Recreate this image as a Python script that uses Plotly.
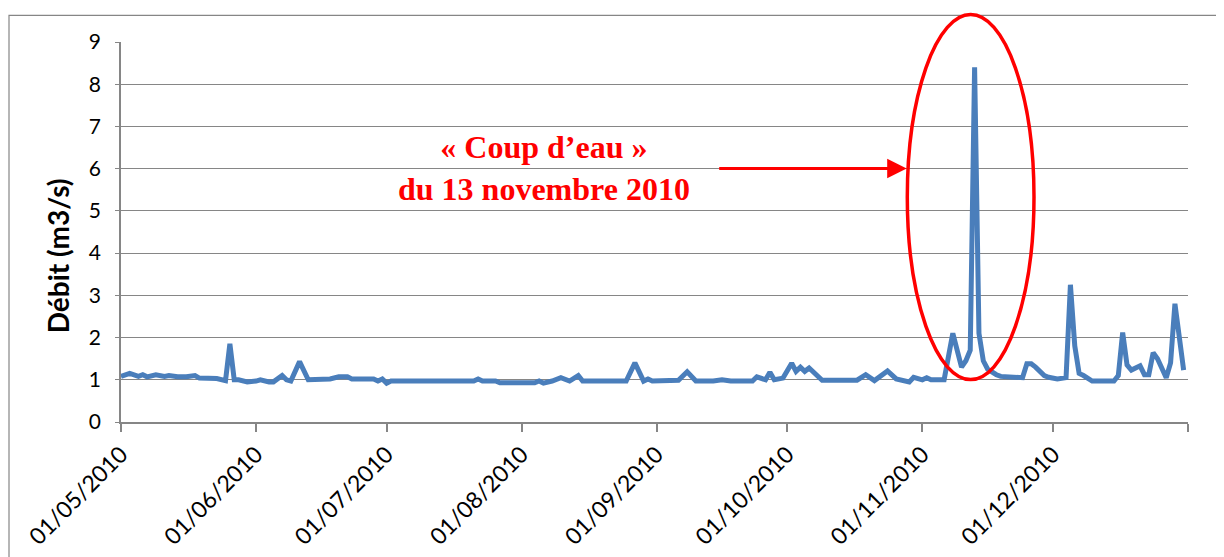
import plotly.graph_objects as go

# ---- data ----
dates = [
    "2010-05-01", "2010-05-03", "2010-05-05", "2010-05-06", "2010-05-07", "2010-05-09",
    "2010-05-11", "2010-05-12", "2010-05-14", "2010-05-16", "2010-05-18", "2010-05-19",
    "2010-05-23", "2010-05-25", "2010-05-26", "2010-05-27", "2010-05-28", "2010-05-30",
    "2010-06-01", "2010-06-02", "2010-06-04", "2010-06-05", "2010-06-07", "2010-06-08",
    "2010-06-09", "2010-06-11", "2010-06-13", "2010-06-18", "2010-06-20", "2010-06-22",
    "2010-06-23", "2010-06-28", "2010-06-29", "2010-06-30", "2010-07-01", "2010-07-02",
    "2010-07-21", "2010-07-22", "2010-07-23", "2010-07-26", "2010-07-27", "2010-08-04",
    "2010-08-05", "2010-08-06", "2010-08-08", "2010-08-10", "2010-08-12", "2010-08-14",
    "2010-08-15", "2010-08-25", "2010-08-27", "2010-08-29", "2010-08-30", "2010-08-31",
    "2010-09-06", "2010-09-08", "2010-09-10", "2010-09-14", "2010-09-16", "2010-09-18",
    "2010-09-23", "2010-09-24", "2010-09-26", "2010-09-27", "2010-09-28", "2010-09-30",
    "2010-10-02", "2010-10-03", "2010-10-04", "2010-10-05", "2010-10-06", "2010-10-08",
    "2010-10-09", "2010-10-17", "2010-10-19", "2010-10-21", "2010-10-24", "2010-10-26",
    "2010-10-28", "2010-10-29", "2010-10-30", "2010-11-01", "2010-11-02", "2010-11-03",
    "2010-11-06", "2010-11-07", "2010-11-08", "2010-11-10", "2010-11-11", "2010-11-12",
    "2010-11-13", "2010-11-14", "2010-11-15", "2010-11-16", "2010-11-17", "2010-11-18",
    "2010-11-19", "2010-11-21", "2010-11-24", "2010-11-25", "2010-11-26", "2010-11-27",
    "2010-11-28", "2010-11-29", "2010-11-30", "2010-12-02", "2010-12-04", "2010-12-05",
    "2010-12-06", "2010-12-07", "2010-12-08", "2010-12-09", "2010-12-10", "2010-12-15",
    "2010-12-16", "2010-12-17", "2010-12-18", "2010-12-19", "2010-12-21", "2010-12-22",
    "2010-12-23", "2010-12-24", "2010-12-25", "2010-12-27", "2010-12-28", "2010-12-29",
    "2010-12-31",
]
debit = [
    1.08, 1.15, 1.08, 1.12, 1.07, 1.12,
    1.08, 1.10, 1.07, 1.07, 1.10, 1.04,
    1.03, 0.98, 1.85, 1.00, 1.00, 0.95,
    0.97, 1.00, 0.95, 0.95, 1.10, 1.00,
    0.97, 1.43, 1.00, 1.02, 1.07, 1.07,
    1.02, 1.02, 0.97, 1.02, 0.92, 0.97,
    0.97, 1.02, 0.97, 0.97, 0.93, 0.93,
    0.97, 0.92, 0.97, 1.05, 0.97, 1.10,
    0.97, 0.97, 1.40, 0.97, 1.02, 0.97,
    0.99, 1.19, 0.97, 0.97, 1.00, 0.97,
    0.97, 1.07, 1.00, 1.18, 1.00, 1.04,
    1.39, 1.20, 1.30, 1.20, 1.28, 1.07,
    0.99, 0.99, 1.12, 0.98, 1.21, 1.02,
    0.97, 0.95, 1.06, 1.00, 1.05, 1.00,
    1.00, 1.50, 2.10, 1.30, 1.45, 1.70,
    8.40, 2.10, 1.45, 1.25, 1.18, 1.12,
    1.08, 1.06, 1.05, 1.38, 1.38, 1.30,
    1.20, 1.10, 1.06, 1.02, 1.05, 3.25,
    1.80, 1.15, 1.10, 1.05, 0.97, 0.97,
    1.10, 2.12, 1.35, 1.23, 1.33, 1.12,
    1.12, 1.64, 1.50, 1.05, 1.40, 2.80,
    1.23,
]
tick_dates = ["2010-05-01", "2010-06-01", "2010-07-01", "2010-08-01", "2010-09-01",
              "2010-10-01", "2010-11-01", "2010-12-01", "2011-01-01"]
tick_labels = ["01/05/2010", "01/06/2010", "01/07/2010", "01/08/2010", "01/09/2010",
               "01/10/2010", "01/11/2010", "01/12/2010", ""]
y_title = "Débit (m3/s)"
note_text = "« Coup d’eau »<br>du 13 novembre 2010"

GRID = "#868686"

fig = go.Figure()
fig.add_trace(go.Scatter(
    x=dates, y=debit, mode="lines",
    line=dict(color="#4A7EBB", width=5),
    hoverinfo="x+y", showlegend=False,
))

# page has an 8px body margin: figure is drawn offset by (8, 8)
OFF = 8
W, H = 1224 - OFF, 557 - OFF
# plot-area geometry in screenshot pixels
L, R, T, B = 121, 1188, 41.7, 421.7
def px(x):
    return (x - L) / (R - L)
def py(y):
    return (B - y) / (B - T)

fig.update_layout(
    width=W, height=H,
    margin=dict(l=L - OFF, r=W - (R - OFF), t=T - OFF, b=H - (B - OFF), pad=0),
    paper_bgcolor="white", plot_bgcolor="white",
    font=dict(family="Lato, Carlito, Calibri, sans-serif", color="black"),
    xaxis=dict(
        type="date", range=["2010-05-01", "2011-01-01"],
        tickvals=tick_dates, ticktext=tick_labels, tickangle=-45,
        showgrid=False, zeroline=False, automargin=False,
        showline=True, linecolor=GRID, linewidth=1.5,
        ticks="outside", ticklen=8, tickcolor=GRID, tickwidth=1.5,
        tickfont=dict(size=23, color="black"),
    ),
    yaxis=dict(
        range=[0, 9], dtick=1, tick0=0, automargin=False,
        showgrid=True, gridcolor=GRID, gridwidth=1.2,
        zeroline=False,
        showline=True, linecolor=GRID, linewidth=1.5,
        ticks="outside", ticklen=4, tickcolor=GRID, tickwidth=1.2,
        ticklabelstandoff=10,
        tickfont=dict(size=21, color="black"),
    ),
    shapes=[
        # outer chart border
        dict(type="rect", xref="paper", yref="paper",
             x0=px(9), x1=px(1240), y0=py(580), y1=py(15),
             line=dict(color=GRID, width=1.2), fillcolor="rgba(0,0,0,0)", layer="below"),
        # red ellipse
        dict(type="circle", xref="paper", yref="paper",
             x0=px(907.3), x1=px(1034), y0=py(379.3), y1=py(14.3),
             line=dict(color="#FF0000", width=3.5)),
    ],
    annotations=[
        # y-axis title
        dict(xref="paper", yref="paper", x=px(58), y=py(256),
             xanchor="center", yanchor="middle", textangle=-90,
             text="<b>" + y_title + "</b>", showarrow=False,
             font=dict(size=28, color="black")),
        dict(xref="paper", yref="paper", x=px(906.7), y=py(168.3),
             ax=-189, ay=0, axref="pixel", ayref="pixel",
             text="", showarrow=True, arrowhead=2, arrowsize=1.3,
             arrowwidth=3, arrowcolor="#FF0000"),
        dict(xref="paper", yref="paper", x=px(544), y=py(168),
             xanchor="center", yanchor="middle", text=note_text,
             showarrow=False, align="center",
             font=dict(family="Liberation Serif, Times New Roman, serif",
                       size=32, color="#FF0000", weight="bold")),
    ],
)

fig.write_html("out.html")
